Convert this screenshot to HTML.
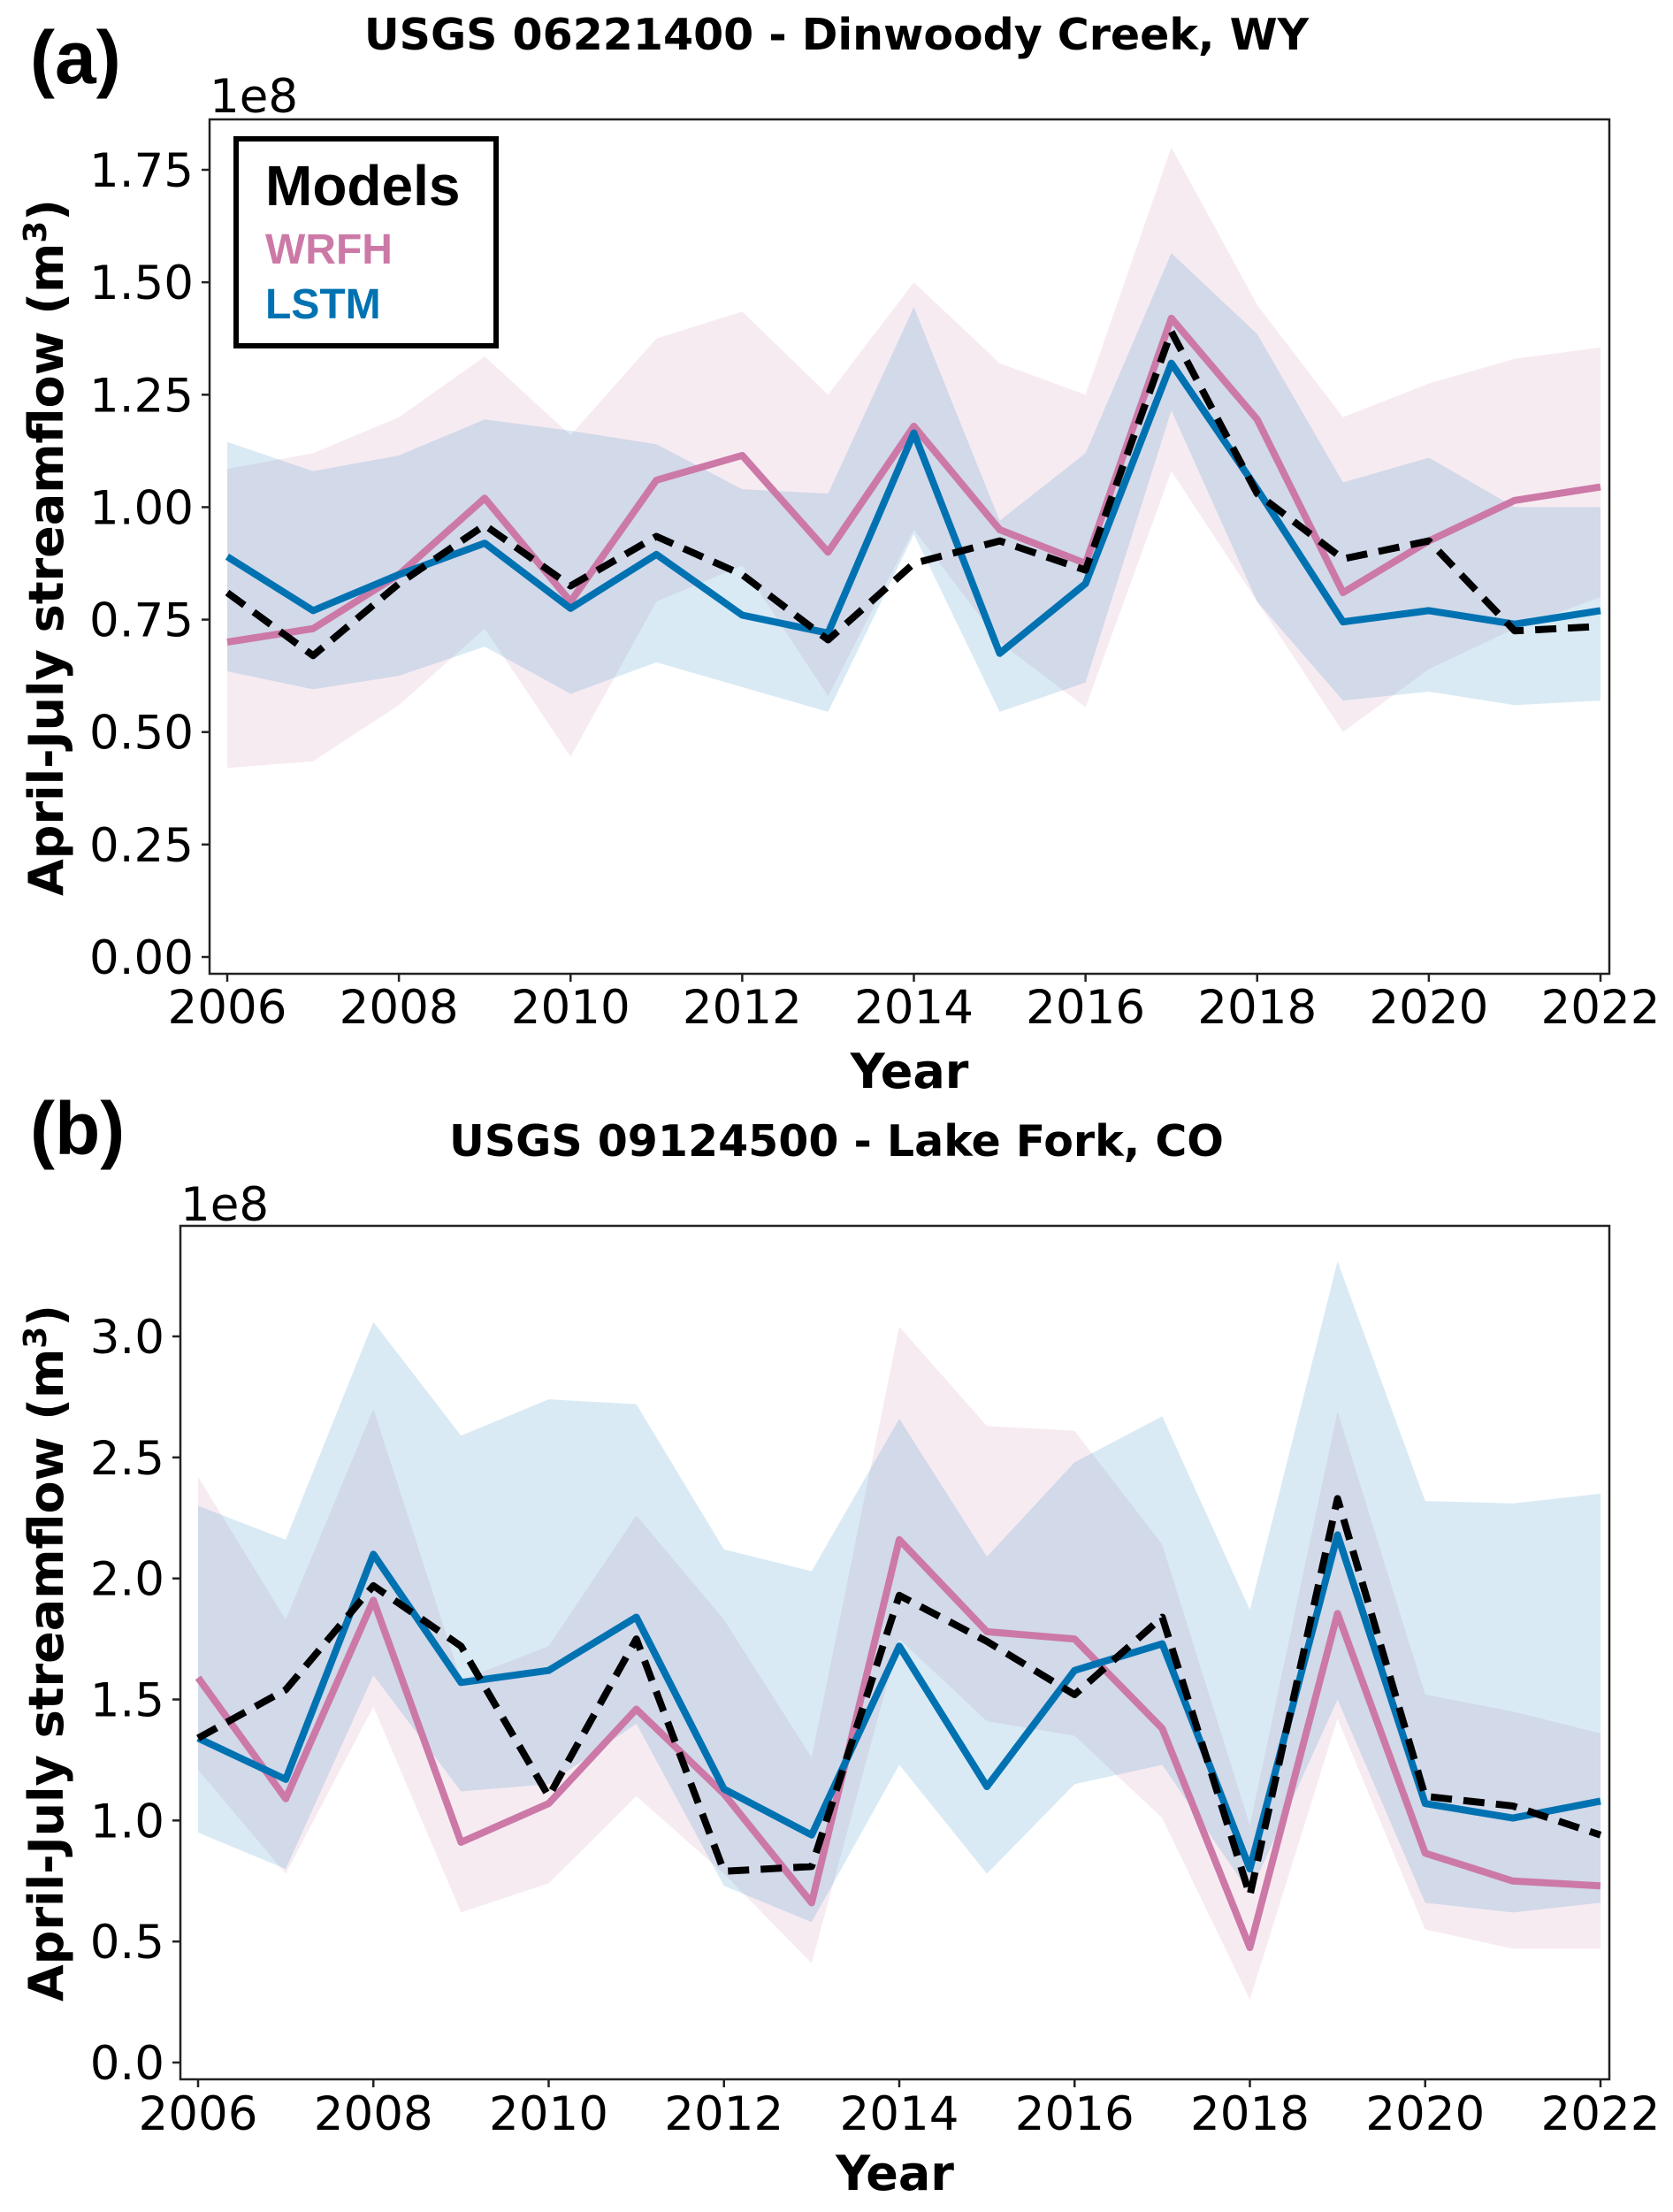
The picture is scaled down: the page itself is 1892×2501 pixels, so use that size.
<!DOCTYPE html>
<html><head><meta charset="utf-8"><style>
html,body{margin:0;padding:0;background:#fff;}
svg{display:block;}
</style></head><body>
<svg id="fig" width="1892" height="2501" viewBox="0 0 1892 2501" xmlns="http://www.w3.org/2000/svg">
<rect width="1892" height="2501" fill="#fff"/>
<g id="panelA"></g>
<g id="panelB"></g>
</svg>
<script>
const years = [2006,2007,2008,2009,2010,2011,2012,2013,2014,2015,2016,2017,2018,2019,2020,2021,2022];
// Panel A data (x1e8 m3)
const aWrfh = [0.70,0.73,0.85,1.02,0.79,1.06,1.115,0.90,1.18,0.95,0.875,1.42,1.195,0.81,0.925,1.015,1.045];
const aLstm = [0.89,0.77,0.85,0.92,0.775,0.895,0.76,0.72,1.165,0.675,0.83,1.32,1.04,0.745,0.77,0.74,0.77];
const aObs  = [0.81,0.67,0.83,0.96,0.825,0.935,0.85,0.705,0.875,0.925,0.86,1.39,1.03,0.885,0.925,0.725,0.735];
const aWrfhHi = [1.085,1.12,1.20,1.335,1.16,1.375,1.435,1.25,1.50,1.32,1.25,1.80,1.45,1.20,1.275,1.33,1.355];
const aWrfhLo = [0.42,0.435,0.56,0.73,0.445,0.79,0.87,0.58,0.95,0.70,0.555,1.08,0.79,0.50,0.64,0.73,0.80];
const aLstmHi = [1.145,1.08,1.115,1.195,1.17,1.14,1.04,1.03,1.445,0.97,1.12,1.565,1.385,1.055,1.11,1.00,1.00];
const aLstmLo = [0.635,0.595,0.625,0.69,0.585,0.655,0.60,0.545,0.94,0.545,0.61,1.215,0.79,0.57,0.59,0.56,0.57];
const aTicks = [0,0.25,0.5,0.75,1.0,1.25,1.5,1.75];
const aTickLabels = ["0.00","0.25","0.50","0.75","1.00","1.25","1.50","1.75"];
// Panel B data
const bWrfh = [1.59,1.09,1.91,0.91,1.07,1.46,1.11,0.66,2.16,1.78,1.75,1.38,0.475,1.855,0.865,0.75,0.73];
const bLstm = [1.34,1.17,2.10,1.57,1.62,1.84,1.13,0.94,1.72,1.14,1.62,1.73,0.80,2.18,1.07,1.01,1.08];
const bObs  = [1.34,1.54,1.97,1.72,1.10,1.75,0.79,0.81,1.93,1.74,1.52,1.84,0.69,2.33,1.10,1.06,0.94];
const bWrfhHi = [2.42,1.83,2.70,1.58,1.72,2.26,1.83,1.26,3.04,2.63,2.61,2.14,0.98,2.69,1.52,1.45,1.36];
const bWrfhLo = [1.21,0.78,1.47,0.62,0.74,1.10,0.78,0.41,1.75,1.41,1.35,1.01,0.26,1.42,0.55,0.47,0.47];
const bLstmHi = [2.30,2.16,3.06,2.59,2.74,2.72,2.12,2.03,2.66,2.09,2.48,2.67,1.87,3.31,2.32,2.31,2.35];
const bLstmLo = [0.95,0.80,1.60,1.12,1.15,1.40,0.73,0.58,1.23,0.78,1.15,1.23,0.70,1.50,0.66,0.62,0.66];
const bTicks = [0,0.5,1.0,1.5,2.0,2.5,3.0];
const bTickLabels = ["0.0","0.5","1.0","1.5","2.0","2.5","3.0"];
const xTicks = [2006,2008,2010,2012,2014,2016,2018,2020,2022];

const NS="http://www.w3.org/2000/svg";
function mk(parent, tag, attrs, text){
  const e=document.createElementNS(NS,tag);
  for(const k in attrs) e.setAttribute(k,attrs[k]);
  if(text!==undefined) e.textContent=text;
  parent.appendChild(e); return e;
}
const PINK="#cc79a7", BLUE="#0072b2";
const TICKFONT='"DejaVu Sans", "Liberation Sans", sans-serif';
const BOLDFONT='"DejaVu Sans", "Liberation Sans", sans-serif';

function drawPanel(g, cfg){
  const {L,R,T,B,x0px,x1px,y0px,yvPx,yv, title, letter, letterY, titleY, e8Y, tickBase, yearY, ylabY} = cfg;
  const xs = v => x0px + (v-2006)*(x1px-x0px)/16;
  const ys = v => y0px - v*(y0px-yvPx)/yv;
  function band(lo,hi,color,name){
    let d="M"+years.map((yr,i)=>xs(yr)+","+ys(hi[i])).join("L");
    for(let i=years.length-1;i>=0;i--) d+="L"+xs(years[i])+","+ys(lo[i]);
    const p=mk(g,"path",{d:d+"Z",fill:color,"fill-opacity":"0.15",stroke:"none"});
    
    
  }
  function line(vals,color,name,dash){
    const pts=years.map((yr,i)=>xs(yr)+","+ys(vals[i])).join(" ");
    const a={points:pts,fill:"none",stroke:color,"stroke-width":"8","stroke-linejoin":"round"};
    if(dash) a["stroke-dasharray"]=dash;
    const p=mk(g,"polyline",a);
    
    
  }
  band(cfg.wlo,cfg.whi,PINK,"wrfh-range-band");
  band(cfg.llo,cfg.lhi,BLUE,"lstm-range-band");
  line(cfg.w,PINK,"wrfh-line");
  line(cfg.l,BLUE,"lstm-line");
  line(cfg.o,"#000","observed-line","24 13");
  const fr=mk(g,"rect",{x:L,y:T,width:R-L,height:B-T,fill:"none",stroke:"#222","stroke-width":"2.5"});
   
  cfg.ticks.forEach((v,i)=>{
    const y=ys(v);
    const t=mk(g,"line",{x1:L-9,x2:L,y1:y,y2:y,stroke:"#222","stroke-width":"2.5"});
     
    const tx=mk(g,"text",{x:L-18,y:y+19,"text-anchor":"end","font-family":TICKFONT,"font-size":"53",fill:"#000"},cfg.tickLabels[i]);
     
  });
  xTicks.forEach(v=>{
    const x=xs(v);
    const t=mk(g,"line",{x1:x,x2:x,y1:B,y2:B+9,stroke:"#222","stroke-width":"2.5"});
     
    const tx=mk(g,"text",{x:x,y:tickBase,"text-anchor":"middle","font-family":TICKFONT,"font-size":"53",fill:"#000"},String(v));
     
  });
  const e8=mk(g,"text",{x:L,y:e8Y,"font-family":TICKFONT,"font-size":"53",fill:"#000"},"1e8");
   
  const tt=mk(g,"text",{x:946,y:titleY,"text-anchor":"middle","font-family":BOLDFONT,"font-weight":"bold","font-size":"49",fill:"#000"},title);
   
  const lt=mk(g,"text",{x:34,y:letterY,"font-family":'"Liberation Sans", sans-serif',"font-weight":"bold","font-size":"84",fill:"#000"},letter);
   
  const xl=mk(g,"text",{x:(L+R)/2,y:yearY,"text-anchor":"middle","font-family":BOLDFONT,"font-weight":"bold","font-size":"54",fill:"#000"},"Year");
   
  const yl=mk(g,"text",{x:0,y:0,"text-anchor":"middle","font-family":BOLDFONT,"font-weight":"bold","font-size":"54",fill:"#000",transform:"translate(71,"+ylabY+") rotate(-90)"});
   
  yl.appendChild(document.createTextNode("April-July streamflow (m"));
  const sup=mk(yl,"tspan",{"font-size":"36",dy:"-19"},"3");
  mk(yl,"tspan",{dy:"19"},")");
}

const gA=document.getElementById("panelA"), gB=document.getElementById("panelB");
drawPanel(gA,{L:237,R:1820,T:135,B:1101,x0px:257,x1px:1810,y0px:1082,yvPx:192,yv:1.75,
  title:"USGS 06221400 - Dinwoody Creek, WY",letter:"(a)",letterY:94,titleY:56,e8Y:127,tickBase:1157,yearY:1230,ylabY:619,
  w:aWrfh,l:aLstm,o:aObs,whi:aWrfhHi,wlo:aWrfhLo,lhi:aLstmHi,llo:aLstmLo,ticks:aTicks,tickLabels:aTickLabels});
drawPanel(gB,{L:204,R:1820,T:1386,B:2351,x0px:224,x1px:1810,y0px:2332,yvPx:1511,yv:3.0,
  title:"USGS 09124500 - Lake Fork, CO",letter:"(b)",letterY:1305,titleY:1307,e8Y:1380,tickBase:2408,yearY:2476,ylabY:1869,
  w:bWrfh,l:bLstm,o:bObs,whi:bWrfhHi,wlo:bWrfhLo,lhi:bLstmHi,llo:bLstmLo,ticks:bTicks,tickLabels:bTickLabels});
</script>
<svg style="position:absolute;left:0;top:0" width="1892" height="420">
  <g>
    <rect x="267" y="157" width="294" height="234" fill="#fff" stroke="#000" stroke-width="6"/>
    <text x="300" y="232" font-family="'Liberation Sans', sans-serif" font-weight="bold" font-size="64" fill="#000">Models</text>
    <text x="300" y="298" font-family="'Liberation Sans', sans-serif" font-weight="bold" font-size="48" fill="#cc79a7">WRFH</text>
    <text x="300" y="360" font-family="'Liberation Sans', sans-serif" font-weight="bold" font-size="48" fill="#0072b2">LSTM</text>
  </g>
</svg>
</body></html>
